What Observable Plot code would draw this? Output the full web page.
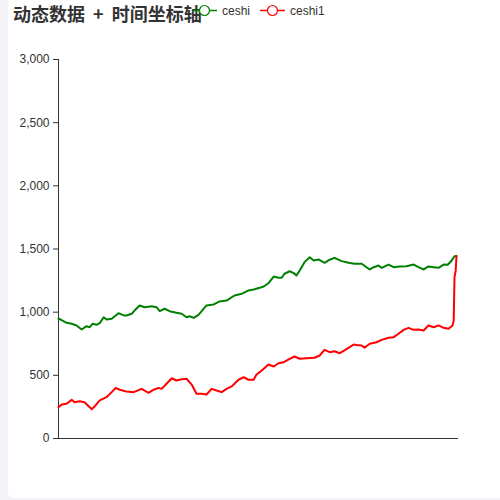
<!DOCTYPE html>
<html>
<head>
<meta charset="utf-8">
<script src="https://cdn.jsdelivr.net/npm/d3@7"></script>
<script src="https://cdn.jsdelivr.net/npm/@observablehq/plot@0.6"></script>
<style>
  html, body { margin: 0; padding: 0; background: #f3f3f8; width: 500px; height: 500px; overflow: hidden; }
  #card { position: absolute; left: 8px; top: -10px; width: 520px; height: 508px; background: #fff; border-radius: 6px; }
  #wrap { position: absolute; left: 0; top: 0; width: 500px; height: 500px; }
  #chart { position: absolute; left: 0; top: 0; }
  #title { position: absolute; left: 13px; top: 1px; font-family: "Noto Sans CJK SC", sans-serif; font-weight: bold; font-size: 18px; color: #333; white-space: pre; word-spacing: 4px; line-height: 24px; }
  #legend { position: absolute; left: 0; top: 0; width: 500px; height: 24px; }
  #legend text { font-family: "Liberation Sans", Arial, sans-serif; font-size: 12px; fill: #333; }
</style>
</head>
<body>
<div id="card"></div>
<div id="wrap">
  <div id="chart"></div>
  <div id="title">动态数据 + 时间坐标轴</div>
  <svg id="legend" width="500" height="24"></svg>
</div>
<script>
// Series names and colours
const seriesNames = ["ceshi", "ceshi1"];
const seriesColors = ["green", "red"];

// Y axis ticks
const yTicks = [0, 500, 1000, 1500, 2000, 2500, 3000];

// ceshi (green): day index and value
const ceshiDays = [0,20,33,45,58,70,78,85,95,103,113,120,133,150,163,170,183,190,203,215,233,245,253,265,278,295,308,320,328,338,350,370,388,403,420,440,458,475,488,503,513,525,538,550,558,565,578,588,595,603,615,628,638,650,665,678,690,708,725,740,758,770,778,788,800,808,825,838,853,870,888,900,913,925,938,950,963,973,983,990,995];
const ceshiValues = [950,916,908,895,863,889,881,908,900,913,960,942,948,992,974,974,987,1013,1053,1039,1047,1039,1008,1027,1008,995,987,960,968,955,979,1053,1061,1085,1092,1132,1145,1172,1180,1193,1203,1229,1282,1272,1272,1304,1324,1309,1290,1330,1396,1435,1409,1417,1391,1415,1430,1404,1391,1383,1383,1356,1338,1356,1369,1351,1377,1356,1362,1364,1377,1356,1338,1362,1356,1351,1377,1375,1409,1443,1445];

// ceshi1 (red): day index and value
const ceshi1Days = [0,8,20,33,40,53,65,78,83,90,103,120,133,143,153,170,188,208,225,238,250,258,270,283,295,308,320,333,345,358,370,383,395,408,420,433,450,463,475,488,495,503,513,525,538,550,563,578,590,603,620,640,653,665,678,690,703,715,728,738,745,758,765,778,795,808,825,838,850,863,875,888,900,913,925,938,950,963,975,985,988,990,993,995];
const ceshi1Values = [248,269,275,306,287,295,287,248,232,253,301,327,367,401,386,372,367,393,362,386,401,393,433,477,459,469,473,427,354,354,348,393,380,367,393,412,465,485,465,465,507,525,552,586,570,596,604,631,649,631,636,639,657,702,683,691,675,697,723,744,740,736,718,750,762,781,797,802,829,860,876,860,863,855,895,881,895,876,868,895,934,1277,1330,1445];

const green = ceshiDays.map((d, i) => ({day: d, value: ceshiValues[i]}));
const red = ceshi1Days.map((d, i) => ({day: d, value: ceshi1Values[i]}));

const chart = Plot.plot({
  width: 500,
  height: 500,
  marginLeft: 58,
  marginRight: 42,
  marginTop: 59,
  marginBottom: 62,
  style: {fontFamily: "'Liberation Sans', Arial, sans-serif", fontSize: "12px", color: "#333", background: "transparent"},
  x: {domain: [0, 1000], axis: null},
  y: {domain: [0, 3000], ticks: yTicks, tickFormat: d3.format(","), tickSize: 5, tickPadding: 4, label: null},
  marks: [
    Plot.axisY({ticks: yTicks, tickFormat: d3.format(","), tickSize: 5, tickPadding: 4, label: null, stroke: "#333", color: "#333", fontSize: 12}),
    Plot.ruleX([0], {stroke: "#333", strokeWidth: 1}),
    Plot.ruleY([0], {stroke: "#333", strokeWidth: 1}),
    Plot.line(green, {x: "day", y: "value", stroke: seriesColors[0], strokeWidth: 2, curve: "linear"}),
    Plot.line(red, {x: "day", y: "value", stroke: seriesColors[1], strokeWidth: 2, curve: "linear"})
  ]
});
document.getElementById("chart").appendChild(chart);

// Legend (ECharts-style line + hollow circle icons)
const legend = d3.select("#legend");
const items = [{x: 192, name: seriesNames[0], color: seriesColors[0]}, {x: 260, name: seriesNames[1], color: seriesColors[1]}];
items.forEach(it => {
  const g = legend.append("g");
  g.append("line").attr("x1", it.x).attr("x2", it.x + 25).attr("y1", 10.5).attr("y2", 10.5).attr("stroke", it.color).attr("stroke-width", 1.5);
  g.append("circle").attr("cx", it.x + 12.5).attr("cy", 10.5).attr("r", 5).attr("fill", "#fff").attr("stroke", it.color).attr("stroke-width", 1.2);
  g.append("text").attr("x", it.x + 30).attr("y", 14.5).text(it.name);
});
</script>
</body>
</html>
